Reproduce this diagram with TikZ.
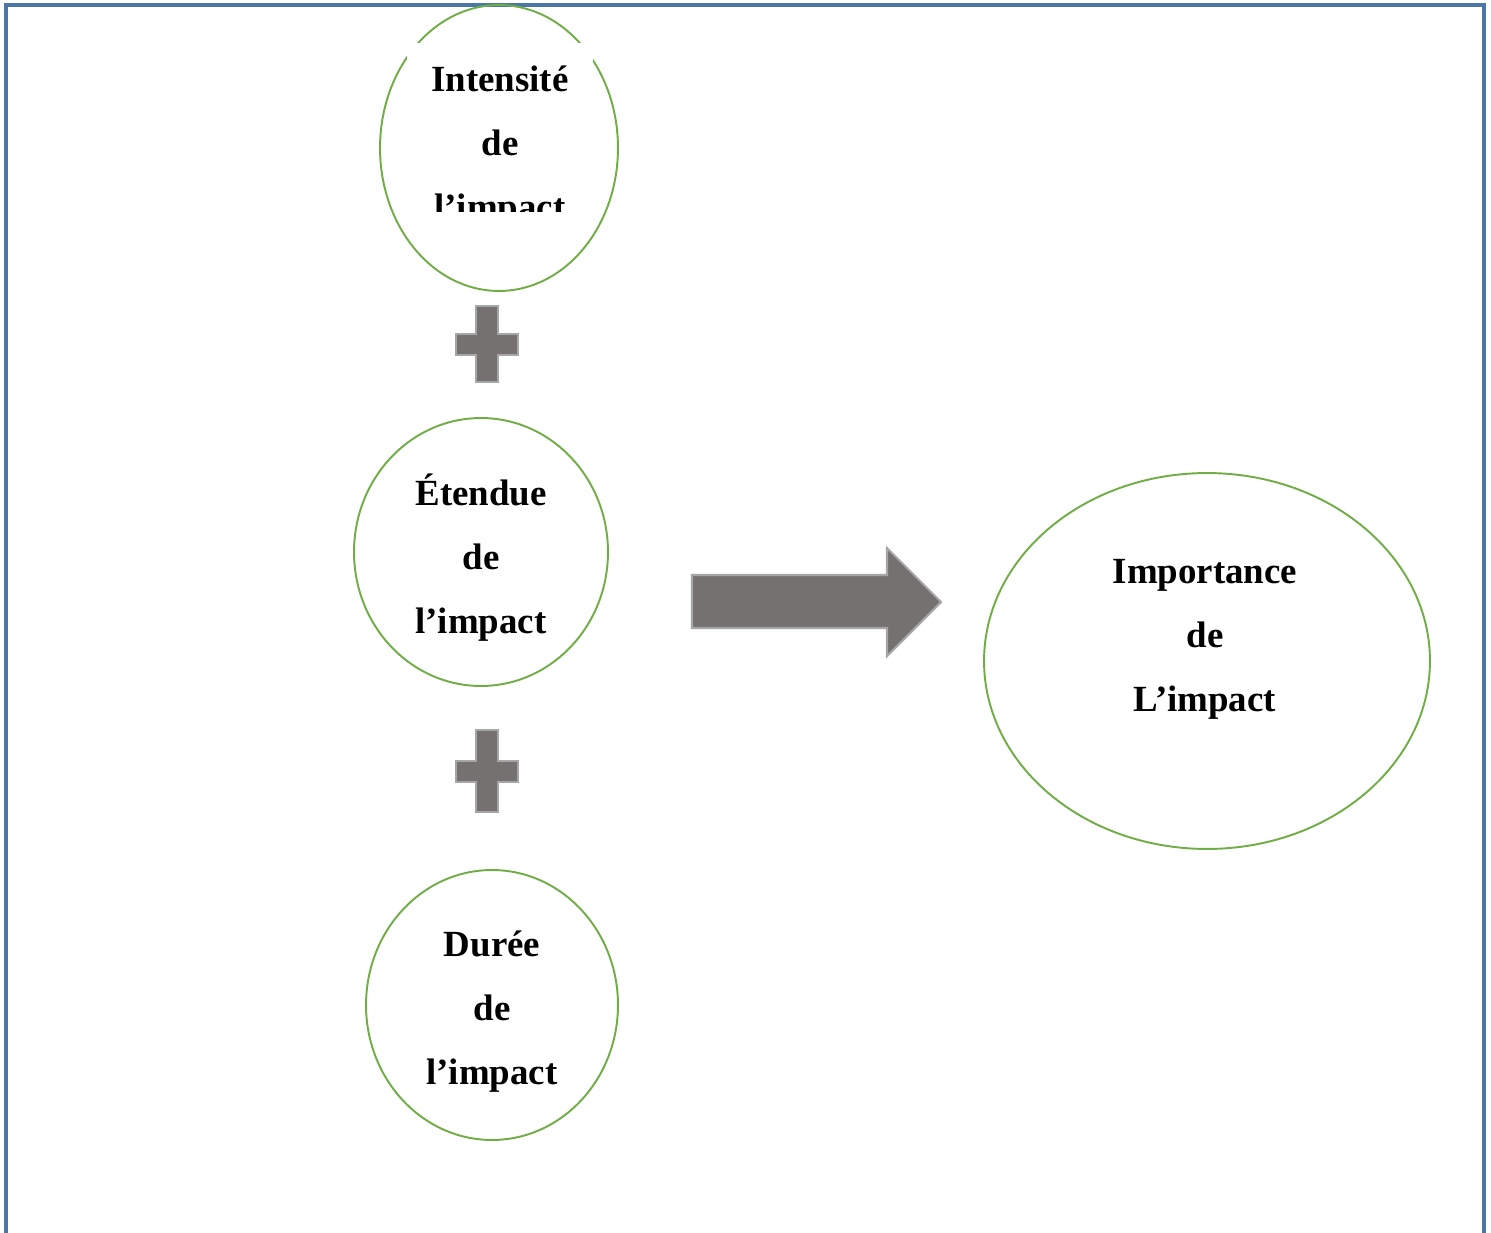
\documentclass[tikz,border=0pt]{standalone}
\usepackage{fontspec}
\setmainfont{Liberation Serif}
\usepackage{xcolor}
\usetikzlibrary{shapes.geometric}
\definecolor{vert}{HTML}{70AD47}
\definecolor{cadre}{HTML}{4A76A8}
\definecolor{gris}{HTML}{767171}
\definecolor{grisclair}{HTML}{A6A6A6}
\newcommand{\plusgras}[3]{
\draw[signe, shift={(#1,#2)}] (-11,-#3) -- (11,-#3) -- (11,-10) -- (31,-10) -- (31,11) -- (11,11) -- (11,#3) -- (-11,#3) -- (-11,11) -- (-31,11) -- (-31,-10) -- (-11,-10) -- cycle;
}

\begin{document}
\begin{tikzpicture}[x = 0.02cm, y = -0.02cm,
    bulle/.style = {ellipse, draw = vert, line width = 1.1pt, inner sep = 0pt},
    texte/.style = {align = center, inner sep = 0pt, font = \fontsize{21}{36.4}\selectfont\bfseries},
    signe/.style = {fill = gris, draw = grisclair, line width = 1.2pt}]
    \useasboundingbox (0,0) rectangle (1491,1233);
    % Cadre
    \draw[cadre, line width = 1.8pt] (6,1233) -- (6,5) -- (1484,5) -- (1484,1233);
    % Bulles
    \node[bulle, minimum width = 4.76cm, minimum height = 5.72cm] (intens) at (499,148) {};
    \begin{scope}
        \clip (407,43) rectangle (593,212);
        \fill[white] (407,43) rectangle (593,212);
        \node[texte] (intens-txt) at (500,147) {Intensité\\de\\l’impact};
    \end{scope}
    \node[bulle, minimum width = 5.08cm, minimum height = 5.36cm] (etendue) at (481,552) {};
    \node[texte] (etendue-txt) at (481,558) {Étendue\\de\\l’impact};
    \node[bulle, minimum width = 5.04cm, minimum height = 5.4cm] (duree) at (492,1005) {};
    \node[texte] (duree-txt) at (492,1012) {Durée\\de\\l’impact};
    \node[bulle, minimum width = 8.92cm, minimum height = 7.52cm] (importance) at (1207,661) {};
    \node[texte] (importance-txt) at (1205,639) {Importance\\de\\L’impact};
    % Signes
    \plusgras{487}{344}{38}
    \plusgras{487}{771}{41}
    \draw[signe] (692,575) -- (887,575) -- (887,548) -- (941,602) -- (887,656) -- (887,628) -- (692,628) -- cycle;
\end{tikzpicture}
\end{document}
